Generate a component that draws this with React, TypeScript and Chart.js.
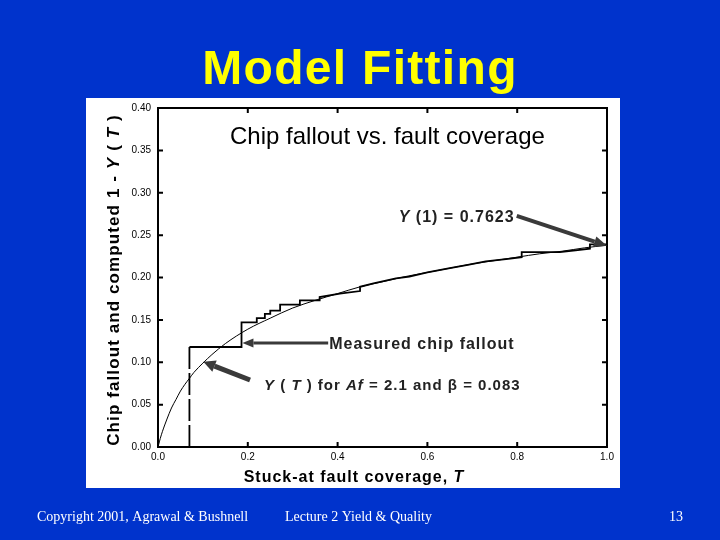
import React, { useEffect, useRef } from 'react';
import { Chart, registerables } from 'chart.js';

Chart.register(...registerables);

// ---- Data ----
// Computed model curve 1 - Y(T)
const modelCoverage = [0, 0.003, 0.005, 0.01, 0.015, 0.02, 0.03, 0.04, 0.05, 0.06, 0.07, 0.08, 0.1, 0.12, 0.15, 0.2, 0.25, 0.3, 0.35, 0.4, 0.45, 0.5, 0.55, 0.6, 0.65, 0.7, 0.75, 0.8, 0.85, 0.9, 0.95, 1.0];
const modelFallout = [0, 0.006, 0.010, 0.0185, 0.026, 0.033, 0.046, 0.056, 0.066, 0.074, 0.081, 0.088, 0.099, 0.109, 0.122, 0.139, 0.152, 0.164, 0.173, 0.181, 0.189, 0.195, 0.201, 0.206, 0.211, 0.216, 0.220, 0.224, 0.228, 0.231, 0.235, 0.238];

// Measured chip fallout (step curve)
const measuredCoverage = [0.07, 0.07, 0.186, 0.186, 0.22, 0.22, 0.238, 0.238, 0.25, 0.25, 0.272, 0.272, 0.316, 0.316, 0.36, 0.36, 0.405, 0.45, 0.45, 0.48, 0.53, 0.56, 0.60, 0.65, 0.69, 0.73, 0.78, 0.81, 0.81, 0.895, 0.93, 0.962, 0.962, 1.0];
const measuredFallout = [0, 0.118, 0.118, 0.147, 0.147, 0.152, 0.152, 0.157, 0.157, 0.161, 0.161, 0.168, 0.168, 0.173, 0.173, 0.177, 0.181, 0.184, 0.189, 0.193, 0.199, 0.201, 0.206, 0.211, 0.215, 0.219, 0.222, 0.224, 0.230, 0.230, 0.232, 0.234, 0.239, 0.239];

// Axis ranges / ticks
const xTickStep = 0.2;
const yTickStep = 0.05;
const xRange = [0, 1];
const yRange = [0, 0.4];

// Annotation arrows (data coordinates): [tailX, tailY, tipX, tipY]
const arrowY1 = [0.799, 0.2726, 1.0, 0.2375];
const arrowMeasured = [0.379, 0.1227, 0.188, 0.1227];
const arrowModel = [0.205, 0.079, 0.101, 0.1007];

// Text
const slideTitle = 'Model Fitting';
const chartTitle = 'Chip fallout vs. fault coverage';
const footerLeft = 'Copyright 2001, Agrawal & Bushnell';
const footerMid = 'Lecture 2 Yield & Quality';
const footerRight = '13';

const SANS = '"Liberation Sans", Arial, Helvetica, sans-serif';
const SERIF = '"Liberation Serif", "Times New Roman", serif';

type Part = [string, boolean];

function drawRich(ctx: CanvasRenderingContext2D, parts: Part[], x: number, y: number, size: number, align: 'left' | 'center', spacing: string) {
  const fontFor = (it: boolean) => `${it ? 'italic ' : ''}bold ${size}px ${SANS}`;
  (ctx as any).letterSpacing = spacing;
  let total = 0;
  for (const [t, it] of parts) {
    ctx.font = fontFor(it);
    total += ctx.measureText(t).width;
  }
  let cx = align === 'center' ? x - total / 2 : x;
  ctx.textAlign = 'left';
  for (const [t, it] of parts) {
    ctx.font = fontFor(it);
    ctx.fillText(t, cx, y);
    cx += ctx.measureText(t).width;
  }
  (ctx as any).letterSpacing = '0px';
}

function drawArrow(ctx: CanvasRenderingContext2D, x1: number, y1: number, x2: number, y2: number, w: number, headLen: number, headW: number, color: string) {
  const ang = Math.atan2(y2 - y1, x2 - x1);
  const bx = x2 - headLen * Math.cos(ang);
  const by = y2 - headLen * Math.sin(ang);
  ctx.strokeStyle = color;
  ctx.lineWidth = w;
  ctx.lineCap = 'butt';
  ctx.beginPath();
  ctx.moveTo(x1, y1);
  ctx.lineTo(bx, by);
  ctx.stroke();
  ctx.fillStyle = color;
  ctx.beginPath();
  ctx.moveTo(x2, y2);
  ctx.lineTo(bx + (headW / 2) * Math.sin(ang), by - (headW / 2) * Math.cos(ang));
  ctx.lineTo(bx - (headW / 2) * Math.sin(ang), by + (headW / 2) * Math.cos(ang));
  ctx.closePath();
  ctx.fill();
}

const slidePlugin = {
  id: 'slideDecor',
  beforeDraw(chart: any) {
    const ctx: CanvasRenderingContext2D = chart.ctx;
    ctx.save();
    ctx.fillStyle = '#0033CC';
    ctx.fillRect(0, 0, chart.width, chart.height);
    // white panel holding the figure
    ctx.fillStyle = '#FFFFFF';
    ctx.fillRect(86, 98, 534, 390);
    // slide title
    ctx.fillStyle = '#FFFF00';
    ctx.font = `bold 48px ${SANS}`;
    (ctx as any).letterSpacing = '1.3px';
    ctx.textAlign = 'center';
    ctx.textBaseline = 'alphabetic';
    ctx.fillText(slideTitle, 360, 84);
    (ctx as any).letterSpacing = '0px';
    // footer
    ctx.fillStyle = '#FFFFFF';
    ctx.font = `14px ${SERIF}`;
    ctx.textAlign = 'left';
    ctx.fillText(footerLeft, 37, 521);
    ctx.fillText(footerMid, 285, 521);
    ctx.fillText(footerRight, 669, 521);
    ctx.restore();
  },
  afterDraw(chart: any) {
    const ctx: CanvasRenderingContext2D = chart.ctx;
    const { left, right, top, bottom } = chart.chartArea;
    const xs = chart.scales.x;
    const ys = chart.scales.y;
    ctx.save();
    // frame
    ctx.strokeStyle = '#000';
    ctx.lineWidth = 2;
    ctx.strokeRect(left, top, right - left, bottom - top);
    // inward ticks on all four sides
    const tl = 5;
    ctx.beginPath();
    for (const t of xs.ticks) {
      const px = xs.getPixelForValue(t.value);
      ctx.moveTo(px, bottom); ctx.lineTo(px, bottom - tl);
      ctx.moveTo(px, top); ctx.lineTo(px, top + tl);
    }
    for (const t of ys.ticks) {
      const py = ys.getPixelForValue(t.value);
      ctx.moveTo(left, py); ctx.lineTo(left + tl, py);
      ctx.moveTo(right, py); ctx.lineTo(right - tl, py);
    }
    ctx.stroke();

    // chart title
    ctx.fillStyle = '#000';
    ctx.font = `24px ${SANS}`;
    ctx.textAlign = 'left';
    ctx.textBaseline = 'alphabetic';
    ctx.fillText(chartTitle, 230, 144);

    // arrows
    const gray = '#3a3a3a';
    const P = (a: number[]) => [xs.getPixelForValue(a[0]), ys.getPixelForValue(a[1]), xs.getPixelForValue(a[2]), ys.getPixelForValue(a[3])];
    let a = P(arrowY1);
    drawArrow(ctx, a[0], a[1], a[2], a[3], 4, 13, 11, gray);
    a = P(arrowMeasured);
    drawArrow(ctx, a[0], a[1], a[2], a[3], 3, 11, 9, gray);
    a = P(arrowModel);
    drawArrow(ctx, a[0], a[1], a[2], a[3], 5, 12, 12, gray);

    // annotation labels
    ctx.fillStyle = '#222';
    const tY1 = P(arrowY1);
    drawRich(ctx, [['Y', true], [' (1) = 0.7623', false]], tY1[0] - 118, tY1[1] + 6, 16, 'left', '1px');
    const tM = P(arrowMeasured);
    drawRich(ctx, [['Measured chip fallout', false]], tM[0] + 1, tM[1] + 6, 16, 'left', '1px');
    const tMo = P(arrowModel);
    drawRich(ctx, [['Y', true], [' ( ', false], ['T', true], [' ) for ', false], ['Af', true], [' = 2.1 and \u03B2 = 0.083', false]], tMo[0] + 14, tMo[1] + 10, 15, 'left', '1px');

    // axis titles
    ctx.fillStyle = '#000';
    drawRich(ctx, [['Stuck-at fault coverage, ', false], ['T', true]], 354, 482, 16, 'center', '1px');
    ctx.translate(113, 280);
    ctx.rotate(-Math.PI / 2);
    drawRich(ctx, [['Chip fallout and computed 1 - ', false], ['Y', true], [' ( ', false], ['T', true], [' )', false]], 0, 6, 17, 'center', '1.1px');
    ctx.restore();
  },
};

export default function App() {
  const ref = useRef<HTMLCanvasElement | null>(null);
  useEffect(() => {
    if (!ref.current) return;
    const modelPts = modelCoverage.map((x, i) => ({ x, y: modelFallout[i] }));
    const measPts = measuredCoverage.map((x, i) => ({ x, y: measuredFallout[i] }));
    const chart = new Chart(ref.current, {
      type: 'scatter',
      data: {
        datasets: [
          {
            label: 'Measured chip fallout',
            data: measPts,
            showLine: true,
            borderColor: '#000',
            borderWidth: 1.8,
            pointRadius: 0,
            fill: false,
            segment: {
              borderDash: (c: any) => (c.p0DataIndex === 0 ? [22, 4] : undefined),
            },
          } as any,
          {
            label: 'Y(T)',
            data: modelPts,
            showLine: true,
            borderColor: '#000',
            borderWidth: 1,
            pointRadius: 0,
            fill: false,
            cubicInterpolationMode: 'monotone',
          } as any,
        ],
      },
      options: {
        responsive: false,
        animation: false,
        events: [],
        layout: { padding: { left: 128, right: 113, top: 108, bottom: 73 } },
        plugins: {
          legend: { display: false },
          tooltip: { enabled: false },
          title: { display: false },
        },
        scales: {
          x: {
            type: 'linear',
            min: xRange[0],
            max: xRange[1],
            grid: { display: false, drawTicks: false },
            border: { display: false },
            ticks: {
              stepSize: xTickStep,
              callback: (v: any) => Number(v).toFixed(1),
              font: { size: 10, family: SANS },
              color: '#000',
              padding: 4,
              maxRotation: 0,
              autoSkip: false,
            },
            afterFit: (s: any) => { s.height = 20; },
          },
          y: {
            type: 'linear',
            min: yRange[0],
            max: yRange[1],
            grid: { display: false, drawTicks: false },
            border: { display: false },
            ticks: {
              stepSize: yTickStep,
              callback: (v: any) => Number(v).toFixed(2),
              font: { size: 10, family: SANS },
              color: '#000',
              padding: 7,
              autoSkip: false,
            },
            afterFit: (s: any) => { s.width = 30; },
          },
        },
      } as any,
      plugins: [slidePlugin],
    });
    return () => chart.destroy();
  }, []);
  return (
    <div style={{ position: 'absolute', left: 0, top: 0, width: 720, height: 540 }}>
      <canvas ref={ref} width={720} height={540} style={{ display: 'block', width: 720, height: 540 }} />
    </div>
  );
}
